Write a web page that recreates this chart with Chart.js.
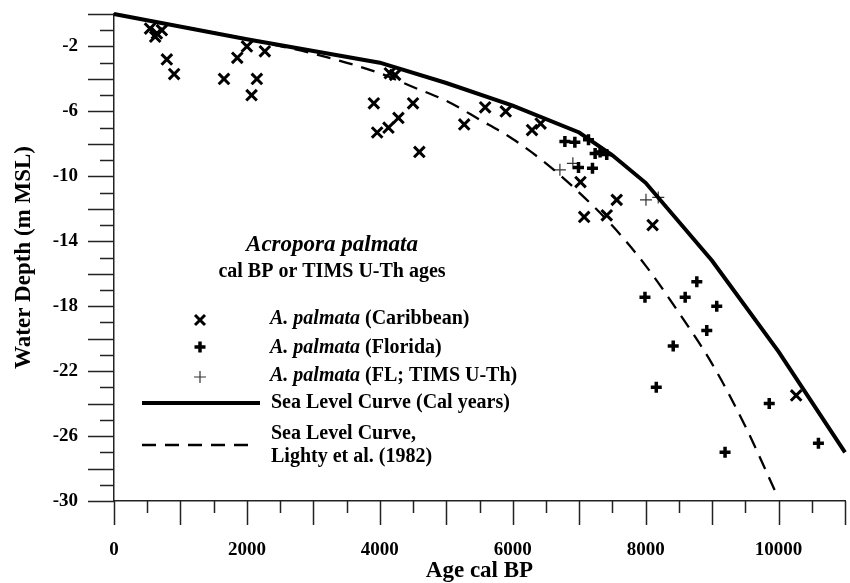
<!DOCTYPE html>
<html>
<head>
<meta charset="utf-8">
<script src="https://cdn.jsdelivr.net/npm/chart.js@4.4.1/dist/chart.umd.min.js"></script>
<style>
  body { margin: 0; background: #fff; }
  #wrap { width: 850px; height: 583px; }
</style>
</head>
<body>
<div id="wrap"><canvas id="grafico"></canvas></div>
<script>
// A. palmata (Caribbean)
const caribAge = [542, 620, 645, 720, 795, 905, 1655, 1855, 2000, 2070, 2150, 2270,
  3910, 3960, 4130, 4150, 4230, 4280, 4500, 4595, 5270, 5585, 5895, 6290, 6420,
  7020, 7075, 7415, 7565, 8105, 10265];
const caribDepth = [-0.9, -1.4, -1.2, -1.0, -2.8, -3.7, -4.0, -2.7, -2.0, -5.0, -4.0, -2.3,
  -5.5, -7.3, -7.0, -3.65, -3.75, -6.4, -5.5, -8.5, -6.8, -5.75, -6.0, -7.15, -6.75,
  -10.35, -12.5, -12.4, -11.45, -13.0, -23.5];

// A. palmata (Florida)
const floridaAge = [6785, 6935, 7140, 7240, 7315, 7415, 6990, 7200, 7990, 8595, 8770,
  9070, 8920, 8415, 8160, 9195, 9860, 10600];
const floridaDepth = [-7.85, -7.9, -7.75, -8.6, -8.5, -8.65, -9.45, -9.5, -17.45, -17.45, -16.5,
  -18.0, -19.5, -20.45, -23.0, -27.0, -24.0, -26.45];

// A. palmata (FL; TIMS U-Th)
const timsAge = [6710, 6905, 8005, 8190];
const timsDepth = [-9.6, -9.2, -11.45, -11.3];

// Sea Level Curve (Cal years)
const calAge = [0, 2000, 4000, 5000, 6000, 7000, 7500, 8000, 9000, 10000, 11000];
const calDepth = [0, -1.55, -3.0, -4.25, -5.65, -7.3, -8.7, -10.4, -15.2, -20.8, -27.0];

// Sea Level Curve, Lighty et al. (1982)
const lightyAge = [0, 2000, 3000, 4000, 4500, 5000, 5500, 6000, 6500, 7000, 7500, 8000, 8500, 9000, 9500, 9950];
const lightyDepth = [0, -1.55, -2.45, -3.65, -4.5, -5.35, -6.5, -7.7, -9.2, -11.0, -13.05, -15.5, -18.4, -21.55, -25.4, -29.4];

// ejes
const xMin = 0, xMax = 11000, xStep = 500, xLabelEvery = 2000, xMajorEvery = 1000;
const yMin = -30, yMax = 0, yStep = 1, yMajorEvery = 2;
const yLabels = [-2, -6, -10, -14, -18, -22, -26, -30];

const serif = '"Liberation Serif", "Times New Roman", serif';

function puntos(xs, ys) {
  return xs.map((x, i) => ({ x: x, y: ys[i] }));
}

// marcas de los ejes: largas y cortas, hacia afuera
const marcas = {
  id: 'marcas',
  afterDraw(chart) {
    const ctx = chart.ctx;
    const xs = chart.scales.x, ys = chart.scales.y;
    const area = chart.chartArea;
    ctx.save();
    ctx.strokeStyle = '#222';
    ctx.lineWidth = 1.5;
    ctx.beginPath();
    for (let v = xMin; v <= xMax; v += xStep) {
      const px = Math.round(xs.getPixelForValue(v)) + 0.5;
      const len = v % xMajorEvery === 0 ? 24 : 12;
      ctx.moveTo(px, area.bottom);
      ctx.lineTo(px, area.bottom + len);
    }
    for (let v = yMin; v <= yMax; v += yStep) {
      const py = Math.round(ys.getPixelForValue(v)) + 0.5;
      const len = v % yMajorEvery === 0 ? 26 : 14;
      ctx.moveTo(area.left, py);
      ctx.lineTo(area.left - len, py);
    }
    ctx.stroke();
    ctx.restore();
  }
};

// leyenda dentro del gráfico
const leyenda = {
  id: 'leyenda',
  afterDraw(chart) {
    const ctx = chart.ctx;
    ctx.save();
    ctx.fillStyle = '#000';
    ctx.strokeStyle = '#000';
    ctx.textBaseline = 'middle';
    ctx.textAlign = 'center';
    ctx.font = 'italic bold 23px ' + serif;
    ctx.fillText('Acropora palmata', 332, 245);
    ctx.font = 'bold 20px ' + serif;
    ctx.fillText('cal BP or TIMS U-Th ages', 332, 272);

    ctx.textAlign = 'left';
    const items = [
      ['A. palmata', ' (Caribbean)', 319],
      ['A. palmata', ' (Florida)', 348],
      ['A. palmata', ' (FL; TIMS U-Th)', 376]
    ];
    items.forEach(it => {
      ctx.font = 'italic bold 20px ' + serif;
      ctx.fillText(it[0], 270, it[2]);
      const w = ctx.measureText(it[0]).width;
      ctx.font = 'bold 20px ' + serif;
      ctx.fillText(it[1], 270 + w, it[2]);
    });
    ctx.font = 'bold 20px ' + serif;
    ctx.fillText('Sea Level Curve (Cal years)', 271, 403);
    ctx.fillText('Sea Level Curve,', 271, 434);
    ctx.fillText('Lighty et al. (1982)', 271, 457);

    // símbolos
    ctx.lineWidth = 3;
    ctx.beginPath();
    ctx.moveTo(195, 315); ctx.lineTo(205, 325);
    ctx.moveTo(205, 315); ctx.lineTo(195, 325);
    ctx.stroke();
    ctx.lineWidth = 3.5;
    ctx.beginPath();
    ctx.moveTo(194.5, 347); ctx.lineTo(205.5, 347);
    ctx.moveTo(200, 341.5); ctx.lineTo(200, 352.5);
    ctx.stroke();
    ctx.lineWidth = 1.2;
    ctx.strokeStyle = '#333';
    ctx.beginPath();
    ctx.moveTo(194, 377); ctx.lineTo(206, 377);
    ctx.moveTo(200, 371); ctx.lineTo(200, 383);
    ctx.stroke();
    ctx.strokeStyle = '#000';
    ctx.lineWidth = 4;
    ctx.beginPath();
    ctx.moveTo(142, 403); ctx.lineTo(260, 403);
    ctx.stroke();
    ctx.lineWidth = 2.5;
    ctx.setLineDash([14, 9]);
    ctx.beginPath();
    ctx.moveTo(142, 445); ctx.lineTo(256, 445);
    ctx.stroke();
    ctx.restore();
  }
};

new Chart(document.getElementById('grafico'), {
  type: 'scatter',
  data: {
    datasets: [
      {
        label: 'Sea Level Curve (Cal years)',
        data: puntos(calAge, calDepth),
        showLine: true,
        borderColor: '#000',
        borderWidth: 4,
        pointRadius: 0,
        tension: 0,
        clip: false
      },
      {
        label: 'Sea Level Curve, Lighty et al. (1982)',
        data: puntos(lightyAge, lightyDepth),
        showLine: true,
        borderColor: '#000',
        borderWidth: 2.3,
        borderDash: [14, 9],
        pointRadius: 0,
        cubicInterpolationMode: 'monotone',
        clip: false
      },
      {
        label: 'A. palmata (Caribbean)',
        data: puntos(caribAge, caribDepth),
        pointStyle: 'crossRot',
        pointRadius: 7.5,
        pointBorderWidth: 3,
        borderColor: '#000',
        backgroundColor: '#000'
      },
      {
        label: 'A. palmata (Florida)',
        data: puntos(floridaAge, floridaDepth),
        pointStyle: 'cross',
        pointRadius: 5.5,
        pointBorderWidth: 3.5,
        borderColor: '#000',
        backgroundColor: '#000'
      },
      {
        label: 'A. palmata (FL; TIMS U-Th)',
        data: puntos(timsAge, timsDepth),
        pointStyle: 'cross',
        pointRadius: 6,
        pointBorderWidth: 1.2,
        borderColor: '#333',
        backgroundColor: '#333'
      }
    ]
  },
  options: {
    responsive: true,
    maintainAspectRatio: false,
    animation: false,
    layout: { autoPadding: false, padding: { left: 0, right: 5, top: 14, bottom: 0 } },
    plugins: {
      legend: { display: false },
      tooltip: { enabled: false }
    },
    scales: {
      x: {
        type: 'linear',
        min: xMin,
        max: xMax,
        afterFit: s => { s.height = 82; s.paddingLeft = 0; s.paddingRight = 0; },
        border: { display: true, color: '#222', width: 1.5 },
        grid: { drawOnChartArea: false, drawTicks: true, tickLength: 24, color: 'rgba(0,0,0,0)' },
        ticks: {
          stepSize: xStep,
          autoSkip: false,
          maxRotation: 0,
          padding: 14,
          color: '#000',
          font: { family: serif, size: 19, weight: 'bold' },
          callback: v => (v % xLabelEvery === 0 ? String(v) : '')
        },
        title: {
          display: true,
          text: 'Age cal BP',
          color: '#000',
          padding: 0,
          font: { family: serif, size: 23, weight: 'bold', lineHeight: 1 }
        }
      },
      y: {
        type: 'linear',
        min: yMin,
        max: yMax,
        afterFit: s => { s.width = 114; s.paddingTop = 0; s.paddingBottom = 0; },
        border: { display: true, color: '#222', width: 1.5 },
        grid: { drawOnChartArea: false, drawTicks: true, tickLength: 26, color: 'rgba(0,0,0,0)' },
        ticks: {
          stepSize: yStep,
          autoSkip: false,
          padding: 10,
          color: '#000',
          font: { family: serif, size: 19, weight: 'bold' },
          callback: v => (yLabels.includes(v) ? String(v) : '')
        },
        title: {
          display: true,
          text: 'Water Depth (m MSL)',
          color: '#000',
          padding: { top: 10, bottom: 0 },
          font: { family: serif, size: 23, weight: 'bold' }
        }
      }
    }
  },
  plugins: [marcas, leyenda]
});
</script>
</body>
</html>
